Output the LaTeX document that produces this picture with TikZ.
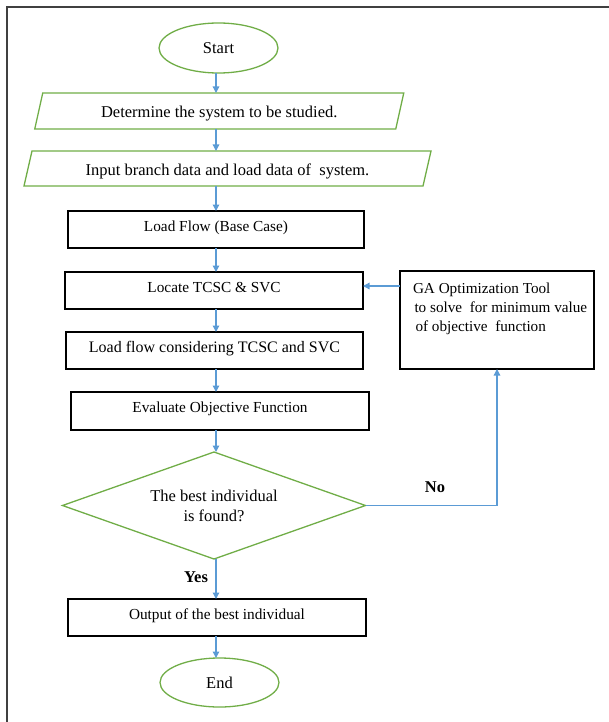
\documentclass[tikz,border=0pt]{standalone}
\usepackage{fontspec}
\setmainfont{Liberation Serif}
\usetikzlibrary{arrows.meta,shapes.geometric,calc}
\definecolor{ogreen}{HTML}{70AD47}
\definecolor{oblue}{HTML}{5B9BD5}
\begin{document}
\begin{tikzpicture}[x=1pt,y=-1pt,
  every node/.style={inner sep=0pt, outer sep=0pt},
  fbox/.style={draw=black, line width=1.3pt, rectangle, font=\fontsize{15.3}{19}\selectfont, text height=11pt, text depth=8pt},
  gshape/.style={draw=ogreen, line width=1.3pt},
  term/.style={ellipse, gshape, font=\fontsize{16.5}{20}\selectfont},
  para/.style={rectangle, font=\fontsize{16.5}{20}\selectfont, text height=15pt, text depth=1pt},
  arr/.style={draw=oblue, line width=1.3pt, -{Triangle[length=6.5pt,width=6.5pt]}},
  lbl/.style={font=\bfseries\fontsize{16.5}{20}\selectfont},
]
\useasboundingbox (0,0) rectangle (609,722);
\draw[black!75, line width=2pt] (7,725) -- (7,7.5) -- (612,7.5);

\node[term, minimum width=119pt, minimum height=50pt] (start) at (218.5,48) {Start};

\node[para, minimum width=361pt, minimum height=36pt] (det) at (219.25,111) {Determine the system to be studied.};
\draw[gshape] ($(det.north west)+(4,0)$) -- ($(det.north east)+(4,0)$) -- ($(det.south east)+(-4,0)$) -- ($(det.south west)+(-4,0)$) -- cycle;

\node[para, minimum width=399pt, minimum height=35pt] (inp) at (227.5,168.5) {Input branch data and load data of\ \ system.};
\draw[gshape] ($(inp.north west)+(4,0)$) -- ($(inp.north east)+(4,0)$) -- ($(inp.south east)+(-4,0)$) -- ($(inp.south west)+(-4,0)$) -- cycle;

\node[fbox, minimum width=296pt, minimum height=37pt] (lf) at (216,229.5) {Load Flow (Base Case)};
\node[fbox, minimum width=298pt, minimum height=37pt] (loc) at (214,290.5) {Locate TCSC \& SVC};
\node[fbox, minimum width=297pt, minimum height=37pt, font=\fontsize{16}{19}\selectfont] (lfc) at (214.5,350.5) {Load flow considering TCSC and SVC};
\node[fbox, minimum width=298pt, minimum height=38pt] (ev) at (220,411) {Evaluate Objective Function};

\node[minimum width=303pt, minimum height=107pt, align=center, font=\fontsize{16.5}{20}\selectfont] (dia) at (214,505.5) {The best individual\\is found?};
\draw[gshape] (dia.north) -- (dia.east) -- (dia.south) -- (dia.west) -- cycle;

\node[fbox, minimum width=298pt, minimum height=37pt] (out) at (217,617.5) {Output of the best individual};
\node[term, minimum width=119pt, minimum height=49pt] (end) at (219.5,682.5) {End};

\node[draw=black, line width=1.3pt, minimum width=194pt, minimum height=98pt] (ga) at (497,320) {};
\node[anchor=north west, align=left, font=\fontsize{15.2}{19}\selectfont] (gatxt) at ($(ga.north west)+(13,12)$) {GA Optimization Tool\\\hspace{1.5pt}to solve\ \ for minimum value\\\hspace{2.5pt}of objective\ \ function};

\node[lbl] (no) at (435,487) {No};
\node[lbl] (yes) at (196,577) {Yes};

\coordinate (col) at (216,0);
\foreach \a/\b in {start/det, det/inp, inp/lf, lf/loc, loc/lfc, lfc/ev, ev/dia, dia/out, out/end}
  \draw[arr] (\a.south -| col) -- (\b.north -| col);

\coordinate (gay) at (0,286);
\draw[arr] (gay -| ga.west) -- (gay -| loc.east);
\draw[arr] (dia.east) -| (ga.south);
\end{tikzpicture}
\end{document}
